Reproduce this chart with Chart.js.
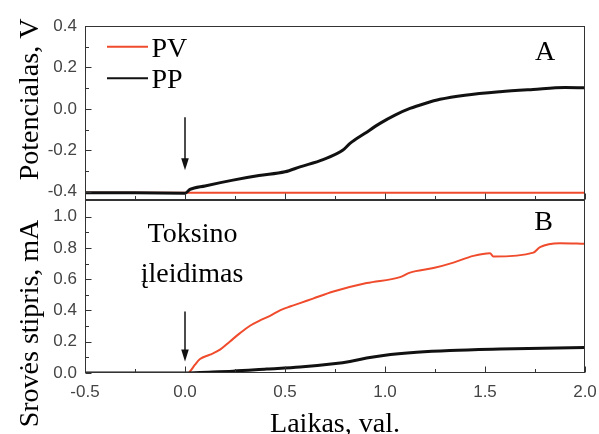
<!DOCTYPE html>
<html><head><meta charset="utf-8">
<script src="https://cdn.jsdelivr.net/npm/chart.js@4.4.1/dist/chart.umd.min.js"></script>
<style>
html,body{margin:0;padding:0;background:#fff;}
#wrap{position:relative;width:599px;height:434px;overflow:hidden;background:#fff;}
#cA{position:absolute;left:0;top:0;}
#cB{position:absolute;left:0;top:200px;}
</style></head><body>
<div id="wrap"><canvas id="cA" width="599" height="201"></canvas><canvas id="cB" width="599" height="234"></canvas></div>
<script>
// ---- data ----
const seriesNames = ['PV', 'PP'];
const xTicks = [-0.5, 0.0, 0.5, 1.0, 1.5, 2.0];
const xMinor = [-0.25, 0.25, 0.75, 1.25, 1.75];
const yTicksA = [-0.4, -0.2, 0.0, 0.2, 0.4];
const yMinorA = [-0.3, -0.1, 0.1, 0.3];
const yTicksB = [0.0, 0.2, 0.4, 0.6, 0.8, 1.0];
const yMinorB = [0.1, 0.3, 0.5, 0.7, 0.9];

// Panel A: potential, V
const pvA_x = [-0.5, 2.0];
const pvA_y = [-0.405, -0.405];
const ppA_x = [-0.5, -0.25, 0.0, 0.025, 0.1, 0.24, 0.37, 0.5, 0.575, 0.69, 0.79, 0.825, 0.9, 0.975, 1.05, 1.125, 1.2, 1.275, 1.4, 1.575, 1.74, 1.9, 2.0];
const ppA_y = [-0.405, -0.405, -0.407, -0.389, -0.372, -0.344, -0.322, -0.304, -0.28, -0.245, -0.199, -0.167, -0.118, -0.07, -0.03, 0.002, 0.026, 0.046, 0.066, 0.083, 0.094, 0.103, 0.102];

// Panel B: current, mA
const pvB_x = [-0.5, 0.0, 0.017, 0.025, 0.05, 0.075, 0.125, 0.175, 0.225, 0.275, 0.325, 0.375, 0.425, 0.475, 0.525, 0.575, 0.64, 0.742, 0.908, 1.075, 1.125, 1.242, 1.342, 1.442, 1.525, 1.542, 1.742, 1.775, 1.875, 2.0];
const pvB_y = [0.0, 0.0, 0.0, 0.01, 0.053, 0.089, 0.117, 0.149, 0.202, 0.255, 0.302, 0.336, 0.366, 0.40, 0.425, 0.447, 0.476, 0.521, 0.575, 0.613, 0.642, 0.671, 0.706, 0.749, 0.766, 0.745, 0.77, 0.805, 0.83, 0.826];
const ppB_x = [-0.5, 0.0, 0.075, 0.24, 0.408, 0.575, 0.742, 0.825, 0.908, 0.992, 1.158, 1.325, 1.575, 2.0];
const ppB_y = [0.0, 0.0, 0.004, 0.012, 0.025, 0.038, 0.059, 0.074, 0.096, 0.112, 0.132, 0.144, 0.153, 0.163];

// ---- styling / annotations ----
const RED = '#ef4b2c', BLACK = '#111';
const SERIF = '"Liberation Serif", "Times New Roman", serif';
const SANS = '"Liberation Sans", Arial, sans-serif';
const arrowA = {x: 0, from: -0.04, to: -0.296};
const arrowB = {x: 0, from: 0.393, to: 0.074};

function pts(xs, ys) { return xs.map((x, i) => ({x: x, y: ys[i]})); }

function drawArrow(ctx, x, y1, y2) {
  ctx.save();
  ctx.strokeStyle = '#111'; ctx.fillStyle = '#111'; ctx.lineWidth = 1.5;
  ctx.beginPath(); ctx.moveTo(x, y1); ctx.lineTo(x, y2 - 10); ctx.stroke();
  ctx.beginPath(); ctx.moveTo(x - 3.8, y2 - 12); ctx.lineTo(x + 3.8, y2 - 12); ctx.lineTo(x, y2); ctx.closePath(); ctx.fill();
  ctx.restore();
}

function frameAndTicks(chart, yMaj, yMin, topY) {
  const ctx = chart.ctx, a = chart.chartArea, xs = chart.scales.x, ys = chart.scales.y;
  ctx.save();
  ctx.strokeStyle = '#333'; ctx.lineWidth = 1;
  const L = Math.round(a.left) + 0.5, R = Math.round(a.right) - 0.5;
  const T = topY, B = Math.round(a.bottom) - 0.5;
  ctx.strokeRect(L, T, R - L, B - T);
  ctx.beginPath();
  xTicks.forEach(v => { const p = Math.round(xs.getPixelForValue(v)) + 0.5; ctx.moveTo(p, B); ctx.lineTo(p, B - 6); });
  xMinor.forEach(v => { const p = Math.round(xs.getPixelForValue(v)) + 0.5; ctx.moveTo(p, B); ctx.lineTo(p, B - 3.5); });
  yMaj.forEach(v => { const p = Math.round(ys.getPixelForValue(v)) + 0.5; ctx.moveTo(L, p); ctx.lineTo(L + 6, p); });
  yMin.forEach(v => { const p = Math.round(ys.getPixelForValue(v)) + 0.5; ctx.moveTo(L, p); ctx.lineTo(L + 3.5, p); });
  ctx.stroke();
  ctx.restore();
}

function vTitle(ctx, text, x, y) {
  ctx.save();
  ctx.translate(x, y); ctx.rotate(-Math.PI / 2);
  ctx.font = '28px ' + SERIF; ctx.fillStyle = '#000';
  ctx.textAlign = 'center'; ctx.textBaseline = 'alphabetic';
  ctx.fillText(text, 0, 0);
  ctx.restore();
}
function hText(ctx, text, x, y, align) {
  ctx.save();
  ctx.font = '28px ' + SERIF; ctx.fillStyle = '#000';
  ctx.textAlign = align || 'center'; ctx.textBaseline = 'alphabetic';
  ctx.fillText(text, x, y);
  ctx.restore();
}

const decorA = {
  id: 'decorA',
  afterDraw(chart) {
    const ctx = chart.ctx, xs = chart.scales.x, ys = chart.scales.y;
    frameAndTicks(chart, yTicksA, yMinorA, Math.round(chart.chartArea.top) + 0.5);
    const ds = chart.data.datasets;
    const rows = [{y: 46.7, base: 56.7}, {y: 78.3, base: 88.3}];
    ds.forEach((d, i) => {
      ctx.save();
      ctx.strokeStyle = d.borderColor; ctx.lineWidth = 2;
      ctx.beginPath(); ctx.moveTo(107, rows[i].y); ctx.lineTo(148, rows[i].y); ctx.stroke();
      ctx.restore();
      hText(ctx, d.label, 151.5, rows[i].base, 'left');
    });
    hText(ctx, 'A', 545, 60);
    drawArrow(ctx, xs.getPixelForValue(arrowA.x), ys.getPixelForValue(arrowA.from), ys.getPixelForValue(arrowA.to));
    vTitle(ctx, 'Potencialas, V', 37.5, 99.5);
  }
};
const decorB = {
  id: 'decorB',
  afterDraw(chart) {
    const ctx = chart.ctx, xs = chart.scales.x, ys = chart.scales.y;
    frameAndTicks(chart, yTicksB, yMinorB, 0.5);
    hText(ctx, 'B', 543.5, 30);
    hText(ctx, 'Toksino', 192.5, 41.7);
    hText(ctx, 'įleidimas', 192, 81.7);
    drawArrow(ctx, xs.getPixelForValue(arrowB.x), ys.getPixelForValue(arrowB.from), ys.getPixelForValue(arrowB.to));
    vTitle(ctx, 'Srovės stipris, mA', 38, 123.5);
    hText(ctx, 'Laikas, val.', 335, 231.7);
  }
};

function noPad(s) { s.paddingTop = 0; s.paddingBottom = 0; s.paddingLeft = 0; s.paddingRight = 0; }

function lineDs(label, data, color, width, order) {
  return {label: label, data: data, borderColor: color, backgroundColor: color, borderWidth: width,
    pointRadius: 0, cubicInterpolationMode: 'monotone', fill: false, order: order};
}
function yAxis(min, max, ticks) {
  return {
    type: 'linear', min: min, max: max,
    afterBuildTicks: s => { s.ticks = ticks.map(v => ({value: v})); },
    afterFit: s => { s.width = 85; noPad(s); },
    grid: {display: false, drawTicks: false}, border: {display: false},
    ticks: {font: {family: SANS, size: 17}, color: '#444', padding: 8, callback: v => Number(v).toFixed(1)}
  };
}
const common = {responsive: false, animation: false, devicePixelRatio: 1,
  plugins: {legend: {display: false}, tooltip: {enabled: false}}};

new Chart(document.getElementById('cA'), {
  type: 'line',
  data: {datasets: [lineDs(seriesNames[0], pts(pvA_x, pvA_y), RED, 2, 1), lineDs(seriesNames[1], pts(ppA_x, ppA_y), BLACK, 3, 0)]},
  options: Object.assign({}, common, {
    layout: {padding: {top: 26, right: 14, bottom: 1, left: 0}},
    scales: {
      x: {type: 'linear', min: -0.5, max: 2.0, display: false},
      y: yAxis(-0.44, 0.4, yTicksA)
    }
  }),
  plugins: [decorA]
});

new Chart(document.getElementById('cB'), {
  type: 'line',
  data: {datasets: [lineDs(seriesNames[0], pts(pvB_x, pvB_y), RED, 2, 1), lineDs(seriesNames[1], pts(ppB_x, ppB_y), BLACK, 3, 0)]},
  options: Object.assign({}, common, {
    layout: {padding: {top: 1, right: 14, bottom: 0, left: 0}},
    scales: {
      x: {type: 'linear', min: -0.5, max: 2.0,
        afterBuildTicks: s => { s.ticks = xTicks.map(v => ({value: v})); },
        afterFit: s => { s.height = 61; noPad(s); },
        grid: {display: false, drawTicks: false}, border: {display: false},
        ticks: {font: {family: SANS, size: 17}, color: '#444', padding: 9, maxRotation: 0, autoSkip: false,
          callback: v => Number(v).toFixed(1)}
      },
      y: yAxis(0, 1.1, yTicksB)
    }
  }),
  plugins: [decorB]
});
</script>
</body></html>
